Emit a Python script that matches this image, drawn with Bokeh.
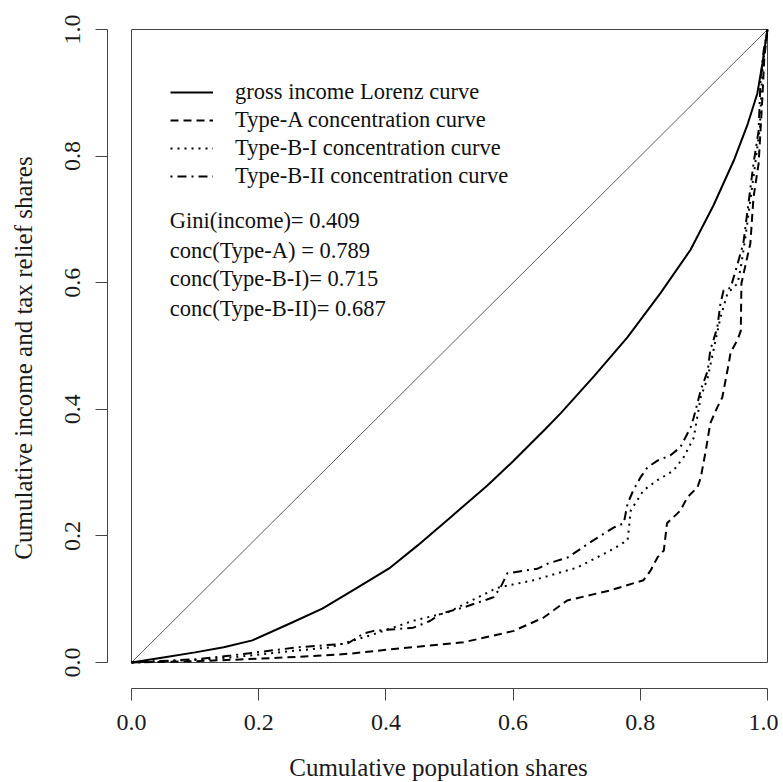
from bokeh.plotting import figure
from bokeh.models import Range1d, Legend, LegendItem, Label, FixedTicker
from bokeh.embed import file_html
from bokeh.resources import INLINE

# ---------------- data ----------------
lorenz_x = [0, 0.05, 0.1, 0.145, 0.19, 0.25, 0.3, 0.35, 0.407, 0.45, 0.5, 0.56, 0.6, 0.65, 0.675,
            0.727, 0.78, 0.832, 0.879, 0.915, 0.947, 0.969, 0.984, 0.992, 0.998, 1.0]
lorenz_y = [0, 0.008, 0.016, 0.024, 0.035, 0.062, 0.085, 0.115, 0.150, 0.185, 0.228, 0.28, 0.318,
            0.368, 0.394, 0.452, 0.514, 0.584, 0.652, 0.722, 0.793, 0.851, 0.899, 0.946, 0.987, 1.0]

typeA_x = [0, 0.1, 0.2, 0.3, 0.344, 0.4, 0.45, 0.522, 0.58, 0.601, 0.648, 0.685, 0.753, 0.805,
           0.816, 0.827, 0.837, 0.842, 0.863, 0.874, 0.89, 0.895, 0.903, 0.91, 0.921, 0.929,
           0.939, 0.942, 0.953, 0.958, 0.959, 0.973, 0.978, 0.986, 0.989, 0.992, 0.995, 1.0]
typeA_y = [0, 0.002, 0.006, 0.011, 0.014, 0.02, 0.025, 0.032, 0.045, 0.05, 0.071, 0.098, 0.114,
           0.13, 0.145, 0.166, 0.177, 0.22, 0.24, 0.261, 0.277, 0.292, 0.335, 0.378, 0.403, 0.419,
           0.472, 0.49, 0.51, 0.524, 0.599, 0.662, 0.735, 0.788, 0.84, 0.893, 0.956, 1.0]

typeBI_x = [0, 0.1, 0.156, 0.261, 0.313, 0.376, 0.443, 0.497, 0.575, 0.632, 0.701, 0.753, 0.78,
            0.785, 0.805, 0.827, 0.852, 0.868, 0.884, 0.895, 0.906, 0.915, 0.926, 0.937, 0.953,
            0.958, 0.965, 0.973, 0.981, 0.988, 0.991, 0.995, 1.0]
typeBI_y = [0, 0.004, 0.008, 0.019, 0.024, 0.043, 0.066, 0.079, 0.118, 0.13, 0.15, 0.177, 0.193,
            0.24, 0.272, 0.288, 0.303, 0.324, 0.355, 0.419, 0.45, 0.493, 0.545, 0.583, 0.599,
            0.624, 0.67, 0.73, 0.79, 0.845, 0.92, 0.967, 1.0]

typeBII_x = [0, 0.1, 0.156, 0.261, 0.34, 0.365, 0.381, 0.443, 0.47, 0.486, 0.522, 0.569, 0.58,
             0.591, 0.638, 0.654, 0.686, 0.726, 0.758, 0.774, 0.78, 0.789, 0.8, 0.811, 0.827,
             0.847, 0.863, 0.879, 0.884, 0.895, 0.906, 0.91, 0.921, 0.926, 0.931, 0.942, 0.953,
             0.962, 0.970, 0.978, 0.986, 0.989, 0.994, 1.0]
typeBII_y = [0, 0.005, 0.011, 0.024, 0.03, 0.046, 0.05, 0.055, 0.066, 0.077, 0.087, 0.103, 0.118,
             0.141, 0.148, 0.156, 0.166, 0.193, 0.213, 0.22, 0.251, 0.272, 0.292, 0.308, 0.319,
             0.327, 0.34, 0.371, 0.387, 0.43, 0.461, 0.493, 0.529, 0.567, 0.588, 0.592, 0.63,
             0.662, 0.725, 0.788, 0.84, 0.919, 0.967, 1.0]

equality_x = [0, 1]
equality_y = [0, 1]

series_names = ["gross income Lorenz curve", "Type-A concentration curve",
                "Type-B-I concentration curve", "Type-B-II concentration curve"]
stat_names = ["Gini(income)= ", "conc(Type-A) = ", "conc(Type-B-I)= ", "conc(Type-B-II)= "]
stat_values = [0.409, 0.789, 0.715, 0.687]

tick_values = [0.0, 0.2, 0.4, 0.6, 0.8, 1.0]
x_title = "Cumulative population shares"
y_title = "Cumulative income and tax relief shares"

# ---------------- figure ----------------
FONT = "Liberation Serif"

p = figure(frame_width=662, frame_height=661,
           x_range=Range1d(-0.03774, 1.00314), y_range=Range1d(-0.04107, 1.00316),
           output_backend="svg", toolbar_location=None,
           min_border_left=107, min_border_right=9, min_border_top=27, min_border_bottom=92)
p.grid.visible = False
p.outline_line_color = None
p.background_fill_color = "white"

for ax in (p.xaxis[0], p.yaxis[0]):
    ax.bounds = (0, 1)
    ax.ticker = FixedTicker(ticks=tick_values)
    ax.minor_tick_line_color = None
    ax.major_tick_in = 0
    ax.major_tick_out = 12
    ax.axis_line_color = "#444444"
    ax.major_tick_line_color = "#444444"
    ax.axis_line_width = 1
    ax.major_label_text_font = FONT
    ax.major_label_text_font_size = "24px"
    ax.major_label_text_color = "#1a1a1a"
    ax.axis_label_text_font = FONT
    ax.axis_label_text_font_size = "25px"
    ax.axis_label_text_font_style = "normal"
    ax.axis_label_text_color = "#1a1a1a"

p.xaxis[0].major_label_overrides = {v: f"{v:.1f}" for v in tick_values}
p.yaxis[0].major_label_overrides = {v: f"{v:.1f}" for v in tick_values}
p.xaxis.major_label_standoff = 14
p.yaxis.major_label_standoff = 15
p.yaxis.major_label_orientation = "vertical"
p.xaxis.axis_label = x_title
p.yaxis.axis_label = y_title
p.xaxis.axis_label_standoff = 21
p.yaxis.axis_label_standoff = 26

# plot box
p.quad(left=[0], right=[1], bottom=[0], top=[1], fill_alpha=0,
       line_color="#444444", line_width=1)

# equality line
p.line(equality_x, equality_y, line_color="#333333", line_width=0.8)

r0 = p.line(lorenz_x, lorenz_y, line_color="black", line_width=2)
r1 = p.line(typeA_x, typeA_y, line_color="black", line_width=2, line_dash="8 5")
r2 = p.line(typeBI_x, typeBI_y, line_color="black", line_width=2, line_dash="2 5")
r3 = p.line(typeBII_x, typeBII_y, line_color="black", line_width=2, line_dash="2 5 9 5")

legend = Legend(items=[LegendItem(label=series_names[i], renderers=[r])
                       for i, r in enumerate([r0, r1, r2, r3])],
                location=(63, 498), orientation="vertical",
                glyph_width=43, glyph_height=28, label_height=28, label_standoff=22,
                spacing=0, padding=0, margin=0,
                border_line_alpha=0, background_fill_alpha=0,
                label_text_font=FONT, label_text_font_size="22.5px",
                label_text_color="#111111")
p.add_layout(legend)

stat_y = [0.698, 0.651, 0.607, 0.559]
for name, val, yy in zip(stat_names, stat_values, stat_y):
    p.add_layout(Label(x=0.06, y=yy, text=f"{name}{val:.3f}", text_font=FONT,
                       text_font_size="22.5px", text_baseline="middle",
                       text_color="#111111"))

open("out.html", "w").write(file_html(p, INLINE))
